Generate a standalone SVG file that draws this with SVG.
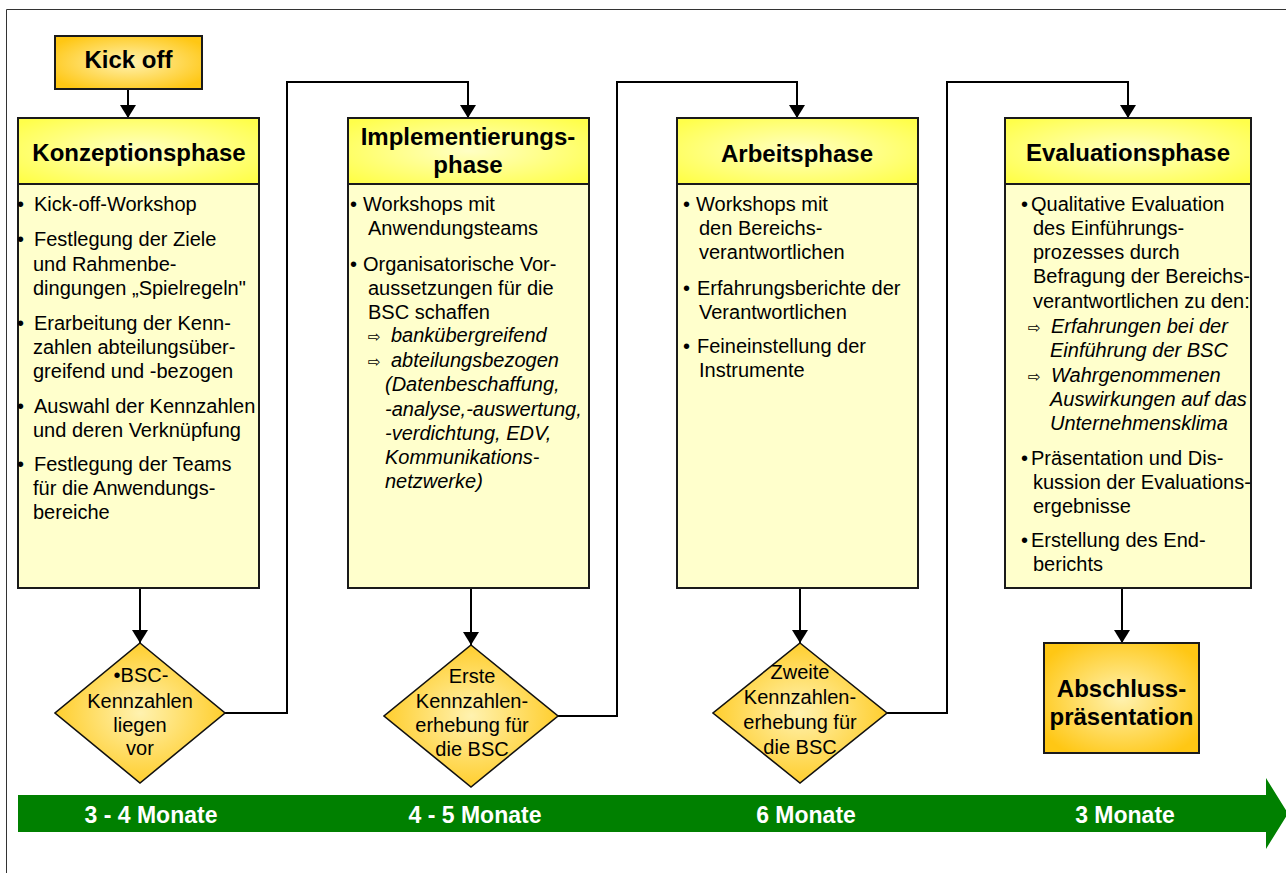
<svg xmlns="http://www.w3.org/2000/svg" width="1286" height="873" viewBox="0 0 1286 873">
<defs>
<radialGradient id="gHead" cx="50%" cy="50%" r="65%">
<stop offset="0" stop-color="#FFFFC4"/>
<stop offset="1" stop-color="#FFFF4A"/>
</radialGradient>
<radialGradient id="gGold" cx="50%" cy="50%" r="60%">
<stop offset="0" stop-color="#FFF2B0"/>
<stop offset="1" stop-color="#FFC714"/>
</radialGradient>
<marker id="arr" viewBox="0 0 13 16" refX="13" refY="8" markerWidth="13" markerHeight="16" markerUnits="userSpaceOnUse" orient="auto">
<path d="M0,0 L13,8 L0,16 z" fill="#000"/>
</marker>
<style>
.frame{fill:none;stroke:#333;stroke-width:1}
.head{fill:url(#gHead);stroke:#1a1a1a;stroke-width:2}
.body{fill:#FFFFCC;stroke:#1a1a1a;stroke-width:2}
.gold{fill:url(#gGold);stroke:#1a1a1a;stroke-width:2}
.dia{fill:url(#gGold);stroke:#111;stroke-width:1.6}
.con{fill:none;stroke:#000;stroke-width:2;marker-end:url(#arr)}
.line{fill:none;stroke:#000;stroke-width:2}
text{font-family:"Liberation Sans",Arial,"DejaVu Sans",sans-serif;fill:#000}
.h{font-size:24px;font-weight:bold;text-anchor:middle}
.t{font-size:20px}
.i{font-size:20px;font-style:italic}
.ar{font-family:"DejaVu Sans",sans-serif;font-size:15px}
.c{font-size:20px;text-anchor:middle}
.g{font-size:23px;font-weight:bold;fill:#fff;text-anchor:middle}
</style>
</defs>
<rect width="1286" height="873" fill="#fff"/>
<path class="frame" d="M6.5,873 V9.5 H1286"/>

<g id="timeline">
<polygon points="18,795 1266,795 1266,778 1288,813.5 1266,849 1266,832 18,832" fill="#008000"/>
<text class="g" x="151" y="823">3 - 4 Monate</text>
<text class="g" x="475" y="823">4 - 5 Monate</text>
<text class="g" x="806" y="823">6 Monate</text>
<text class="g" x="1125" y="823">3 Monate</text>
</g>

<g id="connectors">
<path class="con" d="M128,89 V118"/>
<path class="con" d="M140,588 V643"/>
<path class="con" d="M471,588 V645"/>
<path class="con" d="M800,588 V643"/>
<path class="con" d="M1122,588 V643"/>
<path class="con" d="M225,713 H287 V82 H468 V118"/>
<path class="con" d="M558,716 H617 V82 H797 V118"/>
<path class="con" d="M887,713 H947 V82 H1128 V118"/>
</g>

<g id="kickoff">
<rect class="gold" x="55" y="36" width="147" height="53"/>
<text class="h" x="128.5" y="68">Kick off</text>
</g>

<g id="konzeption">
<rect class="body" x="18" y="184" width="241" height="404"/>
<rect class="head" x="18" y="118" width="241" height="66"/>
<text class="h" x="139" y="161">Konzeptionsphase</text>
<text class="t" x="17" y="211">•</text><text class="t" x="34" y="211">Kick-off-Workshop</text>
<text class="t" x="17" y="246">•</text><text class="t" x="34" y="246">Festlegung der Ziele</text>
<text class="t" x="33" y="270.5">und Rahmenbe-</text>
<text class="t" x="33" y="295">dingungen „Spielregeln"</text>
<text class="t" x="17" y="329.5">•</text><text class="t" x="34" y="329.5">Erarbeitung der Kenn-</text>
<text class="t" x="33" y="354">zahlen abteilungsüber-</text>
<text class="t" x="33" y="378">greifend und -bezogen</text>
<text class="t" x="17" y="412.5">•</text><text class="t" x="34" y="412.5">Auswahl der Kennzahlen</text>
<text class="t" x="33" y="437">und deren Verknüpfung</text>
<text class="t" x="17" y="470.5">•</text><text class="t" x="34" y="470.5">Festlegung der Teams</text>
<text class="t" x="33" y="494.5">für die Anwendungs-</text>
<text class="t" x="33" y="519">bereiche</text>
</g>

<g id="implementierung">
<rect class="body" x="348" y="184" width="241" height="404"/>
<rect class="head" x="348" y="118" width="241" height="66"/>
<text class="h" x="468" y="145">Implementierungs-</text>
<text class="h" x="468" y="173">phase</text>
<text class="t" x="350" y="211">•</text><text class="t" x="363" y="211">Workshops mit</text>
<text class="t" x="368" y="235">Anwendungsteams</text>
<text class="t" x="350" y="271">•</text><text class="t" x="363" y="271">Organisatorische Vor-</text>
<text class="t" x="368" y="295">aussetzungen für die</text>
<text class="t" x="368" y="319">BSC schaffen</text>
<text class="ar" x="368" y="342">⇨</text><text class="i" x="391" y="342">bankübergreifend</text>
<text class="ar" x="368" y="367">⇨</text><text class="i" x="391" y="367">abteilungsbezogen</text>
<text class="i" x="385" y="391">(Datenbeschaffung,</text>
<text class="i" x="385" y="415.5">-analyse,-auswertung,</text>
<text class="i" x="385" y="440">-verdichtung, EDV,</text>
<text class="i" x="385" y="464">Kommunikations-</text>
<text class="i" x="385" y="488">netzwerke)</text>
</g>

<g id="arbeit">
<rect class="body" x="677" y="184" width="241" height="404"/>
<rect class="head" x="677" y="118" width="241" height="66"/>
<text class="h" x="797" y="162">Arbeitsphase</text>
<text class="t" x="683" y="211">•</text><text class="t" x="696" y="211">Workshops mit</text>
<text class="t" x="699" y="235">den Bereichs-</text>
<text class="t" x="699" y="259">verantwortlichen</text>
<text class="t" x="683" y="295">•</text><text class="t" x="697" y="295">Erfahrungsberichte der</text>
<text class="t" x="699" y="319">Verantwortlichen</text>
<text class="t" x="683" y="353">•</text><text class="t" x="697" y="353">Feineinstellung der</text>
<text class="t" x="699" y="377">Instrumente</text>
</g>

<g id="evaluation">
<rect class="body" x="1005" y="184" width="246" height="404"/>
<rect class="head" x="1005" y="118" width="246" height="66"/>
<text class="h" x="1128" y="161">Evaluationsphase</text>
<text class="t" x="1021" y="211">•</text><text class="t" x="1031" y="211">Qualitative Evaluation</text>
<text class="t" x="1033" y="235">des Einführungs-</text>
<text class="t" x="1033" y="259">prozesses durch</text>
<text class="t" x="1033" y="283">Befragung der Bereichs-</text>
<text class="t" x="1033" y="308">verantwortlichen zu den:</text>
<text class="ar" x="1028" y="333">⇨</text><text class="i" x="1051" y="333">Erfahrungen bei der</text>
<text class="i" x="1050" y="357">Einführung der BSC</text>
<text class="ar" x="1028" y="382">⇨</text><text class="i" x="1051" y="382">Wahrgenommenen</text>
<text class="i" x="1050" y="406">Auswirkungen auf das</text>
<text class="i" x="1050" y="430">Unternehmensklima</text>
<text class="t" x="1021" y="465">•</text><text class="t" x="1031" y="465">Präsentation und Dis-</text>
<text class="t" x="1033" y="489">kussion der Evaluations-</text>
<text class="t" x="1033" y="513">ergebnisse</text>
<text class="t" x="1021" y="547">•</text><text class="t" x="1031" y="547">Erstellung des  End-</text>
<text class="t" x="1033" y="571">berichts</text>
</g>

<g id="diamond1">
<polygon class="dia" points="140,643 225,713 140,783 55,713"/>
<text class="c" x="141" y="682">•BSC-</text>
<text class="c" x="140" y="708">Kennzahlen</text>
<text class="c" x="140" y="732">liegen</text>
<text class="c" x="140" y="755">vor</text>
</g>

<g id="diamond2">
<polygon class="dia" points="471,645 558,716 471,787 384,716"/>
<text class="c" x="472" y="683">Erste</text>
<text class="c" x="472" y="708">Kennzahlen-</text>
<text class="c" x="472" y="732">erhebung für</text>
<text class="c" x="472" y="756">die BSC</text>
</g>

<g id="diamond3">
<polygon class="dia" points="800,643 887,713 800,783 713,713"/>
<text class="c" x="800" y="679">Zweite</text>
<text class="c" x="800" y="704">Kennzahlen-</text>
<text class="c" x="800" y="729">erhebung für</text>
<text class="c" x="800" y="754">die BSC</text>
</g>

<g id="abschluss">
<rect class="gold" x="1044" y="643" width="155" height="110"/>
<text class="h" x="1121.5" y="697">Abschluss-</text>
<text class="h" x="1121.5" y="725">präsentation</text>
</g>
</svg>
